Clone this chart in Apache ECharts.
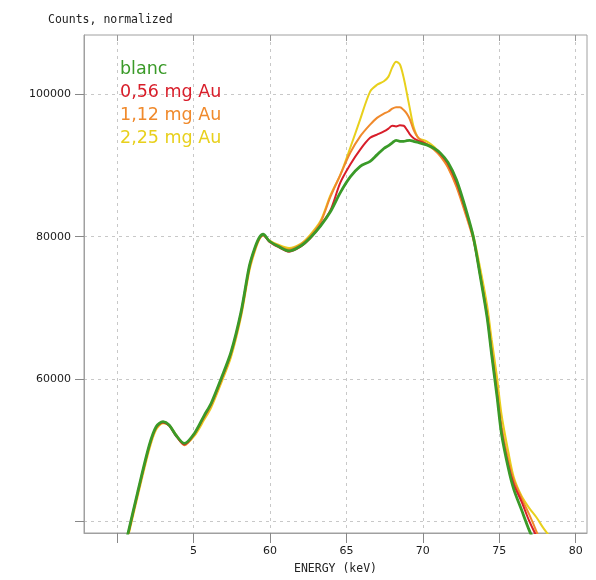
<!DOCTYPE html>
<html><head><meta charset="utf-8">
<script src="https://cdn.jsdelivr.net/npm/echarts@6/dist/echarts.min.js"></script>
<style>html,body{margin:0;padding:0;background:#fff}#c{width:596px;height:580px}</style>
</head><body><div id="c"></div>
<script>
const energy = [50.6, 51.35, 52.1, 52.55, 53.0, 53.4, 53.85, 54.4, 55.05, 55.7, 56.15, 56.8, 57.45, 58.1, 58.65, 59.0, 59.3, 59.55, 59.95, 60.5, 61.25, 62.0, 62.6, 63.3, 63.95, 64.6, 65.25, 65.9, 66.55, 67.0, 67.45, 67.75, 68.0, 68.25, 68.5, 68.75, 68.95, 69.15, 69.4, 69.7, 70.25, 70.75, 71.15, 71.65, 72.2, 72.85, 73.3, 73.75, 74.2, 74.5, 74.85, 75.15, 75.6, 75.95, 76.45, 76.95, 77.45, 77.9, 78.4];
const blanc = [37300, 44200, 50700, 53300, 54000, 53550, 52100, 50950, 52350, 54900, 56600, 60050, 63800, 69400, 75900, 78400, 79900, 80350, 79400, 78700, 78000, 78700, 79800, 81500, 83500, 86200, 88400, 89900, 90600, 91500, 92400, 92800, 93200, 93550, 93400, 93400, 93500, 93550, 93400, 93250, 92900, 92400, 91750, 90450, 88000, 83600, 80000, 74500, 68700, 63450, 57600, 52250, 47400, 44500, 41650, 38800, 36500, 35000, 33500];
const au056 = [37200, 44100, 50600, 53200, 53900, 53450, 52000, 50800, 52300, 54800, 56500, 59900, 63700, 69300, 75800, 78300, 79800, 80250, 79300, 78600, 77900, 78600, 79700, 81600, 83700, 87600, 90150, 92250, 93900, 94350, 94800, 95200, 95600, 95500, 95650, 95600, 95050, 94400, 93850, 93500, 93000, 92400, 91600, 90200, 87600, 83300, 79900, 74600, 68900, 63700, 57900, 52600, 47800, 45200, 42800, 40100, 37800, 35500, 33500];
const au112 = [37000, 43900, 50400, 53100, 53900, 53500, 52100, 50700, 52200, 54600, 56300, 59700, 63500, 69000, 75500, 78100, 79700, 80200, 79400, 78800, 78200, 78900, 80000, 82000, 85600, 88700, 91800, 94100, 95750, 96700, 97300, 97600, 98000, 98200, 98200, 97800, 97300, 96500, 95000, 93900, 93000, 92200, 91300, 89700, 87000, 82800, 79600, 74700, 69300, 64300, 58600, 53400, 48500, 45800, 43300, 41000, 38500, 36000, 34000];
const au225 = [36800, 43600, 50100, 52900, 53800, 53500, 52200, 50800, 52000, 54300, 56000, 59400, 63100, 68700, 75200, 77900, 79600, 80200, 79500, 78900, 78400, 79000, 80200, 82200, 85800, 88700, 92500, 96500, 100400, 101350, 101850, 102500, 103800, 104600, 104200, 102300, 100200, 98000, 95400, 93900, 93400, 92600, 91600, 89800, 87200, 83200, 80200, 75600, 70400, 65600, 60300, 55000, 49700, 46200, 43600, 41900, 40500, 39000, 37600];

const seriesNames = ['blanc', '0,56 mg Au', '1,12 mg Au', '2,25 mg Au'];
const xTickValues = [50, 55, 60, 65, 70, 75, 80];
const xLabelValues = [55, 60, 65, 70, 75, 80];
const xLabelTexts = ['5', '60', '65', '70', '75', '80'];
const yTickValues = [40000, 60000, 80000, 100000];
const yLabelValues = [60000, 80000, 100000];
const yLabelTexts = ['60000', '80000', '100000'];

const colors = {
  'blanc': '#3a9a28',
  '0,56 mg Au': '#d81e2a',
  '1,12 mg Au': '#f08a2c',
  '2,25 mg Au': '#e8d01c'
};
const pair = (ys) => energy.map((x, i) => [x, ys[i]]);

const chart = echarts.init(document.getElementById('c'), null, {renderer: 'canvas'});
const gridLine = {show: true, lineStyle: {color: '#c8c8c8', type: [3, 4], width: 1}};
const tickFont = {fontFamily: 'DejaVu Sans', fontSize: 11, color: '#1a1a1a'};

chart.setOption({
  animation: false,
  backgroundColor: '#fff',
  title: {
    text: 'Counts, normalized', left: 43, top: 9,
    textStyle: {fontFamily: 'DejaVu Sans Mono', fontSize: 11.5, fontWeight: 'normal', color: '#222'}
  },
  legend: {
    orient: 'vertical', left: 115, top: 55, itemWidth: 0, itemHeight: 0, itemGap: 5, icon: 'none',
    selectedMode: false,
    data: seriesNames.map(n => ({name: n, icon: 'none', textStyle: {color: colors[n]}})),
    textStyle: {fontFamily: 'DejaVu Sans', fontSize: 17.5, padding: [0, 0, 0, -5]}
  },
  grid: {left: 84, top: 35, width: 503, height: 501, show: true, borderColor: '#a0a0a0', borderWidth: 1},
  xAxis: [{
    type: 'value', min: 47.83, max: 80.74, position: 'bottom',
    name: 'ENERGY (keV)', nameLocation: 'middle', nameGap: 30,
    nameTextStyle: {fontFamily: 'DejaVu Sans Mono', fontSize: 11.5, color: '#222'},
    axisLine: {show: true, lineStyle: {color: '#a0a0a0'}},
    axisTick: {show: true, inside: false, length: 10, customValues: xTickValues, lineStyle: {color: '#888'}},
    axisLabel: Object.assign({customValues: xLabelValues, margin: 13,
      formatter: v => xLabelTexts[xLabelValues.indexOf(v)]}, tickFont),
    splitLine: gridLine
  }, {
    type: 'value', min: 47.83, max: 80.74, position: 'top',
    axisLine: {show: false},
    axisTick: {show: true, inside: true, length: 6, customValues: xTickValues, lineStyle: {color: '#999'}},
    axisLabel: {show: false}, splitLine: {show: false}
  }],
  yAxis: [{
    type: 'value', min: 38360, max: 108350,
    axisLine: {show: true, lineStyle: {color: '#a0a0a0'}},
    axisTick: {show: true, inside: false, length: 9, customValues: yTickValues, lineStyle: {color: '#888'}},
    axisLabel: Object.assign({customValues: yLabelValues, margin: 13,
      formatter: v => yLabelTexts[yLabelValues.indexOf(v)]}, tickFont),
    splitLine: gridLine
  }],
  series: [
    {name: '2,25 mg Au', data: pair(au225), width: 2},
    {name: '1,12 mg Au', data: pair(au112), width: 2},
    {name: '0,56 mg Au', data: pair(au056), width: 2},
    {name: 'blanc', data: pair(blanc), width: 2.8}
  ].map(s => ({
    type: 'line', name: s.name, data: s.data, xAxisIndex: 0, yAxisIndex: 0,
    showSymbol: false, smooth: 0.3, clip: true,
    lineStyle: {color: colors[s.name], width: s.width},
    itemStyle: {color: colors[s.name]}
  }))
});
</script></body></html>
